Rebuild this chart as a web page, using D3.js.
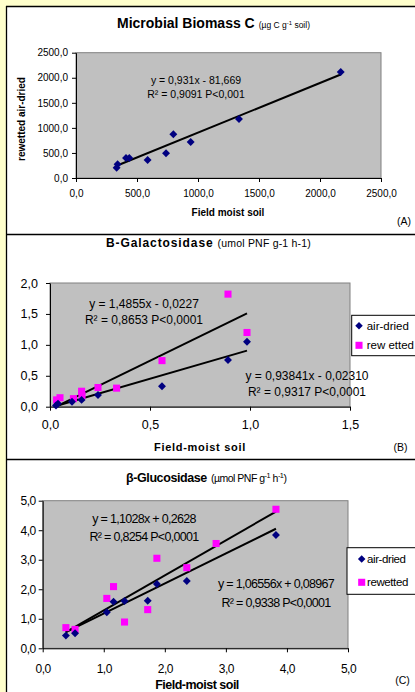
<!DOCTYPE html>
<html>
<head>
<meta charset="utf-8">
<script src="https://cdn.jsdelivr.net/npm/d3@7"></script>
<style>
  body { margin: 0; background: #FFFFCC; }
  svg { display: block; font-family: "Liberation Sans", Arial, sans-serif; }
</style>
</head>
<body>
<div id="chart"></div>
<script>
// (A) Microbial biomass C
const biomassX = [333, 341, 410, 437, 587, 738, 798, 940, 1336, 2170];
const biomassY = [205, 273, 399, 400, 359, 493, 872, 718, 1177, 2115];
const biomassTrend = [[333, 245], [2170, 2065]];
const biomassTicks = [0, 500, 1000, 1500, 2000, 2500];
const biomassEq = ["y = 0,931x - 81,669", "R² = 0,9091 P<0,001"];

// (B) B-Galactosidase
const galAirX = [0.03, 0.04, 0.11, 0.158, 0.24, 0.56, 0.89, 0.985];
const galAirY = [0.02, 0.05, 0.08, 0.11, 0.19, 0.33, 0.755, 1.05];
const galRewX = [0.033, 0.05, 0.117, 0.158, 0.16, 0.24, 0.333, 0.56, 0.89, 0.985];
const galRewY = [0.11, 0.145, 0.13, 0.25, 0.18, 0.31, 0.30, 0.745, 1.82, 1.20];
const galAirTrend = [[0.03, 0.01], [0.985, 0.906]];
const galRewTrend = [[0.03, 0.0], [0.985, 1.51]];
const galXTicks = [0, 0.5, 1.0, 1.5];
const galYTicks = [0, 0.5, 1.0, 1.5, 2.0];
const galRewEq = ["y = 1,4855x - 0,0227", "R² = 0,8653 P<0,0001"];
const galAirEq = ["y = 0,93841x - 0,02310", "R² = 0,9317 P<0,0001"];

// (C) beta-Glucosidase
const gluAirX = [0.38, 0.53, 1.05, 1.16, 1.34, 1.72, 1.87, 2.36, 3.82];
const gluAirY = [0.43, 0.51, 1.22, 1.58, 1.60, 1.61, 2.18, 2.28, 3.84];
const gluRewX = [0.38, 0.53, 1.05, 1.16, 1.34, 1.72, 1.87, 2.36, 2.84, 3.82];
const gluRewY = [0.70, 0.64, 1.69, 2.09, 0.89, 1.31, 3.05, 2.73, 3.55, 4.71];
const gluAirTrend = [[0.38, 0.55], [3.82, 4.05]];
const gluRewTrend = [[0.38, 0.55], [3.82, 4.63]];
const gluTicks = [0, 1, 2, 3, 4, 5];
const gluRewEq = ["y = 1,1028x + 0,2628", "R² = 0,8254 P<0,0001"];
const gluAirEq = ["y = 1,06556x + 0,08967", "R² = 0,9338 P<0,0001"];

const legendNames = ["air-dried", "rew etted", "rewetted"];

const NAVY = "#000080";
const MAGENTA = "#FF00FF";

const fmt = d => d3.format(".1f")(d).replace(".", ",");
const zip = (xs, ys) => xs.map((x, i) => [x, ys[i]]);

let svg = d3.select("#chart").append("svg")
    .attr("width", 415)
    .attr("height", 692);

// Rahmen
svg.append("rect").attr("width", 415).attr("height", 692).attr("fill", "#FFFFCC");
svg.append("rect").attr("x", 6).attr("y", 6).attr("width", 409).attr("height", 686).attr("fill", "#fff");
[[6, 6.5, 415, 6.5], [6.5, 6, 6.5, 692], [6, 234.5, 415, 234.5], [6, 459.5, 415, 459.5]].forEach(l => {
    svg.append("line")
        .attr("x1", l[0]).attr("y1", l[1]).attr("x2", l[2]).attr("y2", l[3])
        .attr("stroke", "#000").attr("stroke-width", 1.3);
});

function drawPanel(cfg) {
    let g = svg.append("g");
    let x = d3.scaleLinear().domain(cfg.xDomain).range([cfg.left, cfg.right]);
    let y = d3.scaleLinear().domain(cfg.yDomain).range([cfg.bottom, cfg.top]);

    // Plotfläche
    g.append("rect")
        .attr("x", cfg.left).attr("y", cfg.top)
        .attr("width", cfg.right - cfg.left).attr("height", cfg.bottom - cfg.top)
        .attr("fill", "#C0C0C0").attr("stroke", "#808080");

    // Achsen
    let xAxis = g.append("g")
        .attr("transform", `translate(0, ${cfg.bottom})`)
        .call(d3.axisBottom(x).tickValues(cfg.xTicks).tickFormat(fmt).tickSize(4).tickSizeOuter(0).tickPadding(cfg.xPad));
    let yAxis = g.append("g")
        .attr("transform", `translate(${cfg.left}, 0)`)
        .call(d3.axisLeft(y).tickValues(cfg.yTicks).tickFormat(fmt).tickSize(4).tickSizeOuter(0).tickPadding(cfg.yPad));
    [xAxis, yAxis].forEach(a => {
        a.selectAll("path, line").attr("stroke", "#000");
        a.selectAll("text")
            .attr("fill", "#000")
            .style("font-family", "'Liberation Sans', Arial, sans-serif")
            .style("font-size", cfg.tickFont + "px")
            .style("letter-spacing", cfg.tickSpacing + "px");
    });

    // Trendlinien
    cfg.trends.forEach(t => {
        g.append("line")
            .attr("x1", x(t[0][0])).attr("y1", y(t[0][1]))
            .attr("x2", x(t[1][0])).attr("y2", y(t[1][1]))
            .attr("stroke", "#000").attr("stroke-width", 2);
    });

    // Punkte
    cfg.series.forEach(s => {
        g.selectAll(null)
            .data(s.points)
            .join("path")
            .attr("transform", d => `translate(${x(d[0])}, ${y(d[1])})`)
            .attr("d", d3.symbol().type(s.square ? d3.symbolSquare : d3.symbolDiamond2).size(s.square ? 50 : 40))
            .attr("fill", s.color);
    });

    // Gleichungen
    cfg.equations.forEach(e => {
        e.lines.forEach((txt, i) => {
            g.append("text")
                .attr("x", e.x).attr("y", e.y + i * e.gap)
                .attr("text-anchor", "middle")
                .style("font-size", cfg.eqFont + "px")
                .style("letter-spacing", cfg.eqSpacing + "px")
                .text(txt);
        });
    });

    // Legende
    if (cfg.legend) {
        let lg = cfg.legend;
        g.append("rect")
            .attr("x", lg.x).attr("y", lg.y).attr("width", 80).attr("height", lg.h)
            .attr("fill", "#fff").attr("stroke", "#000");
        lg.items.forEach((it, i) => {
            let cy = lg.y + lg.first + i * lg.gap;
            g.append("path")
                .attr("transform", `translate(${lg.x + lg.sym}, ${cy})`)
                .attr("d", d3.symbol().type(it.square ? d3.symbolSquare : d3.symbolDiamond2).size(it.square ? 50 : 36))
                .attr("fill", it.color);
            g.append("text")
                .attr("x", lg.x + lg.text).attr("y", cy + 4)
                .style("font-size", "11.5px")
                .style("letter-spacing", lg.spacing + "px")
                .text(it.name);
        });
    }
}

function drawTitle(x, y, bold, boldSize, boldSpacing, parts, partSize, partSpacing) {
    let t = svg.append("text").attr("x", x).attr("y", y);
    t.append("tspan").style("font-weight", "bold").style("font-size", boldSize + "px")
        .style("letter-spacing", boldSpacing + "px").text(bold);
    let first = true;
    parts.forEach(p => {
        let ts = t.append("tspan").style("font-size", (p.sup ? partSize * 0.7 : partSize) + "px")
            .style("letter-spacing", partSpacing + "px")
            .text(p.t);
        if (first) { ts.attr("dx", 4); first = false; }
        if (p.sup) ts.attr("dy", -partSize * 0.4);
        if (p.down) ts.attr("dy", partSize * 0.4);
    });
}

function label(x, y, txt, size, opts = {}) {
    let t = svg.append("text")
        .attr("x", x).attr("y", y)
        .attr("text-anchor", opts.anchor || "middle")
        .style("font-size", size + "px")
        .style("font-weight", opts.bold ? "bold" : "normal")
        .style("letter-spacing", (opts.spacing || 0) + "px")
        .text(txt);
    if (opts.rotate) t.attr("transform", `rotate(-90, ${x}, ${y})`);
    return t;
}

// Panel A
drawPanel({
    left: 76, top: 52.7, right: 381, bottom: 178,
    xDomain: [0, 2500], yDomain: [0, 2500],
    xTicks: biomassTicks, yTicks: biomassTicks,
    xPad: 8, yPad: 4, tickFont: 10, tickSpacing: 0,
    trends: [biomassTrend],
    series: [{ points: zip(biomassX, biomassY), color: NAVY }],
    eqFont: 10.5, eqSpacing: 0,
    equations: [{ lines: biomassEq, x: 196, y: 84, gap: 13.5 }]
});
drawTitle(117, 28, "Microbial Biomass C", 14, 0,
    [{ t: "(µg C g" }, { t: "-1", sup: true }, { t: " soil)", down: true }], 8.5, 0);
label(228, 216, "Field moist soil", 10, { bold: true });
label(25, 119, "rewetted air-dried", 10, { bold: true, rotate: true });
label(404, 225, "(A)", 10.5);

// Panel B
drawPanel({
    left: 50, top: 283, right: 350, bottom: 406.7,
    xDomain: [0, 1.5], yDomain: [0, 2],
    xTicks: galXTicks, yTicks: galYTicks,
    xPad: 9, yPad: 8, tickFont: 12.5, tickSpacing: 0,
    trends: [galRewTrend, galAirTrend],
    series: [
        { points: zip(galRewX, galRewY), color: MAGENTA, square: true },
        { points: zip(galAirX, galAirY), color: NAVY }
    ],
    eqFont: 12, eqSpacing: 0,
    equations: [
        { lines: galRewEq, x: 144, y: 308, gap: 15.5 },
        { lines: galAirEq, x: 307, y: 380, gap: 16 }
    ],
    legend: {
        x: 351.7, y: 315.3, h: 40.4, first: 10.4, gap: 19.6, sym: 7.3, text: 15, spacing: 0,
        items: [{ name: legendNames[0], color: NAVY }, { name: legendNames[1], color: MAGENTA, square: true }]
    }
});
drawTitle(106, 247, "B-Galactosidase", 12, 0.9,
    [{ t: "(umol PNF g-1 h-1)" }], 10.5, 0.2);
label(200, 451, "Field-moist soil", 11, { bold: true, spacing: 0.7 });
label(400.5, 451, "(B)", 10.5);

// Panel C
drawPanel({
    left: 42.7, top: 500.7, right: 348, bottom: 648.3,
    xDomain: [0, 5], yDomain: [0, 5],
    xTicks: gluTicks, yTicks: gluTicks,
    xPad: 12, yPad: 3, tickFont: 12, tickSpacing: -0.5,
    trends: [gluRewTrend, gluAirTrend],
    series: [
        { points: zip(gluRewX, gluRewY), color: MAGENTA, square: true },
        { points: zip(gluAirX, gluAirY), color: NAVY }
    ],
    eqFont: 12.5, eqSpacing: -0.7,
    equations: [
        { lines: gluRewEq, x: 144, y: 523, gap: 18 },
        { lines: gluAirEq, x: 276, y: 588, gap: 18.5 }
    ],
    legend: {
        x: 347, y: 547.7, h: 46.6, first: 11.3, gap: 23.3, sym: 14.7, text: 20, spacing: -0.4,
        items: [{ name: legendNames[0], color: NAVY }, { name: legendNames[2], color: MAGENTA, square: true }]
    }
});
drawTitle(126, 482, "β-Glucosidase", 12.5, -0.4,
    [{ t: "(µmol PNF g" }, { t: "-1", sup: true }, { t: " h", down: true }, { t: "-1", sup: true }, { t: ")", down: true }], 10.5, -0.5);
label(197, 689, "Field-moist soil", 12.5, { bold: true, spacing: -0.5 });
label(402.5, 684, "(C)", 10.5);
</script>
</body>
</html>
